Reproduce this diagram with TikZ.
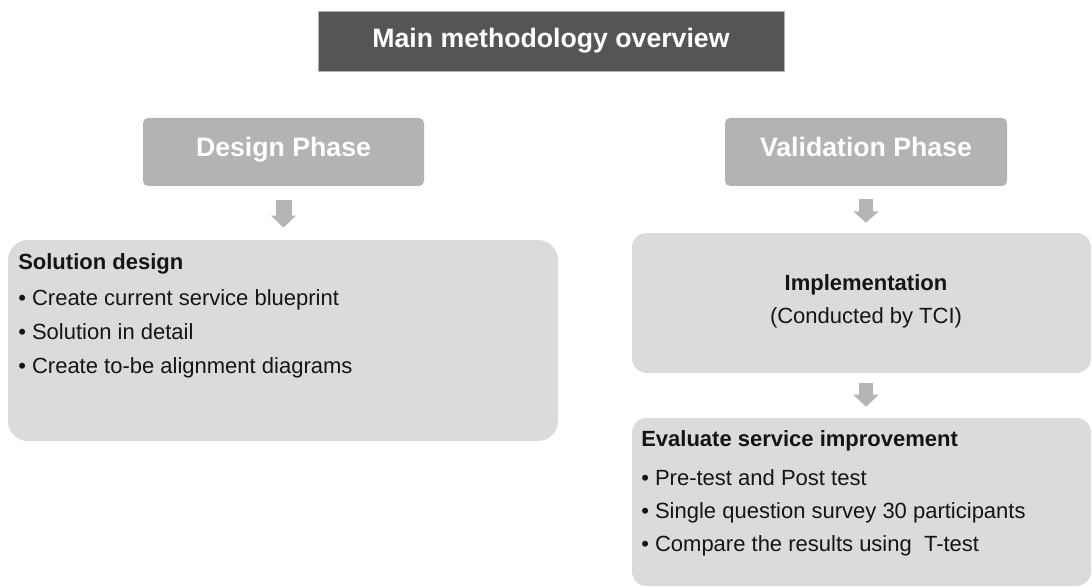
\documentclass[tikz,border=0pt]{standalone}
\usepackage{fontspec}
\setmainfont{Liberation Sans}
\usetikzlibrary{arrows.meta}
\definecolor{titlegray}{HTML}{555555}
\definecolor{phasegray}{HTML}{B3B3B3}
\definecolor{boxgray}{HTML}{DBDBDB}
\definecolor{arrowgray}{HTML}{B5B5B5}
\definecolor{txt}{HTML}{151515}
\tikzset{
  titlebox/.style={fill=titlegray, draw=gray!60, line width=0.6pt, inner sep=0pt},
  phasebox/.style={fill=phasegray, rounded corners=3.75pt, inner sep=0pt},
  contentbox/.style={fill=boxgray, inner sep=0pt},
  bigtxt/.style={inner sep=0pt, text=white, font=\fontsize{20pt}{24pt}\selectfont\bfseries},
  bodytxt/.style={inner sep=0pt, text=txt, font=\fontsize{16.5pt}{20pt}\selectfont},
  headtxt/.style={bodytxt, font=\fontsize{16.5pt}{20pt}\selectfont\bfseries},
  blockarrow/.style={draw=arrowgray, line width=#1}
}
\begin{document}
\begin{tikzpicture}[x=0.75pt,y=-0.75pt]
\useasboundingbox (0,0) rectangle (1092,588);
% boxes
\node[titlebox, minimum width=349.5pt, minimum height=45pt] (title) at (551,41) {};
\node[phasebox, minimum width=210.75pt, minimum height=51pt] (design) at (283.5,152) {};
\node[phasebox, minimum width=211.5pt, minimum height=51pt] (valid) at (866,152) {};
\node[contentbox, rounded corners=15pt, minimum width=412.5pt, minimum height=150.75pt] (sol) at (283,340.5) {};
\node[contentbox, rounded corners=11pt, minimum width=344.25pt, minimum height=105pt] (impl) at (861.5,303) {};
\node[contentbox, rounded corners=11pt, minimum width=344.25pt, minimum height=126pt] (eval) at (861.5,502) {};
% texts
\node[bigtxt, anchor=base] (titletxt) at (551,48) {Main methodology overview};
\node[bigtxt, anchor=base] (designtxt) at (283.5,157) {Design Phase};
\node[bigtxt, anchor=base] (validtxt) at (866,157) {Validation Phase};
\node[headtxt, anchor=base west] (solh) at (18,269) {Solution design};
\node[bodytxt, anchor=base west] (sol1) at (18,305) {• Create current service blueprint};
\node[bodytxt, anchor=base west] (sol2) at (18,339) {• Solution in detail};
\node[bodytxt, anchor=base west] (sol3) at (18,373) {• Create to-be alignment diagrams};
\node[headtxt, anchor=base] (implh) at (866,290) {Implementation};
\node[bodytxt, anchor=base] (impl1) at (866,323) {(Conducted by TCI)};
\node[headtxt, anchor=base west] (evalh) at (641,446) {Evaluate service improvement};
\node[bodytxt, anchor=base west] (eval1) at (641,485) {• Pre-test and Post test};
\node[bodytxt, anchor=base west] (eval2) at (641,518) {• Single question survey 30 participants};
\node[bodytxt, anchor=base west] (eval3) at (641,551) {• Compare the results using\ \ T-test};
% arrows
\draw[blockarrow=12pt, -{Triangle[width=18pt,length=9pt]}, shorten <=10.5pt, shorten >=9pt]
  (design.south) -- (design.south |- sol.north);
\draw[blockarrow=11pt, -{Triangle[width=18.5pt,length=8.5pt]}, shorten <=9.75pt, shorten >=7.5pt]
  (valid.south) -- (valid.south |- impl.north);
\draw[blockarrow=11pt, -{Triangle[width=18.5pt,length=9pt]}, shorten <=7.5pt, shorten >=8.25pt]
  (valid.south |- impl.south) -- (valid.south |- eval.north);
\end{tikzpicture}
\end{document}
